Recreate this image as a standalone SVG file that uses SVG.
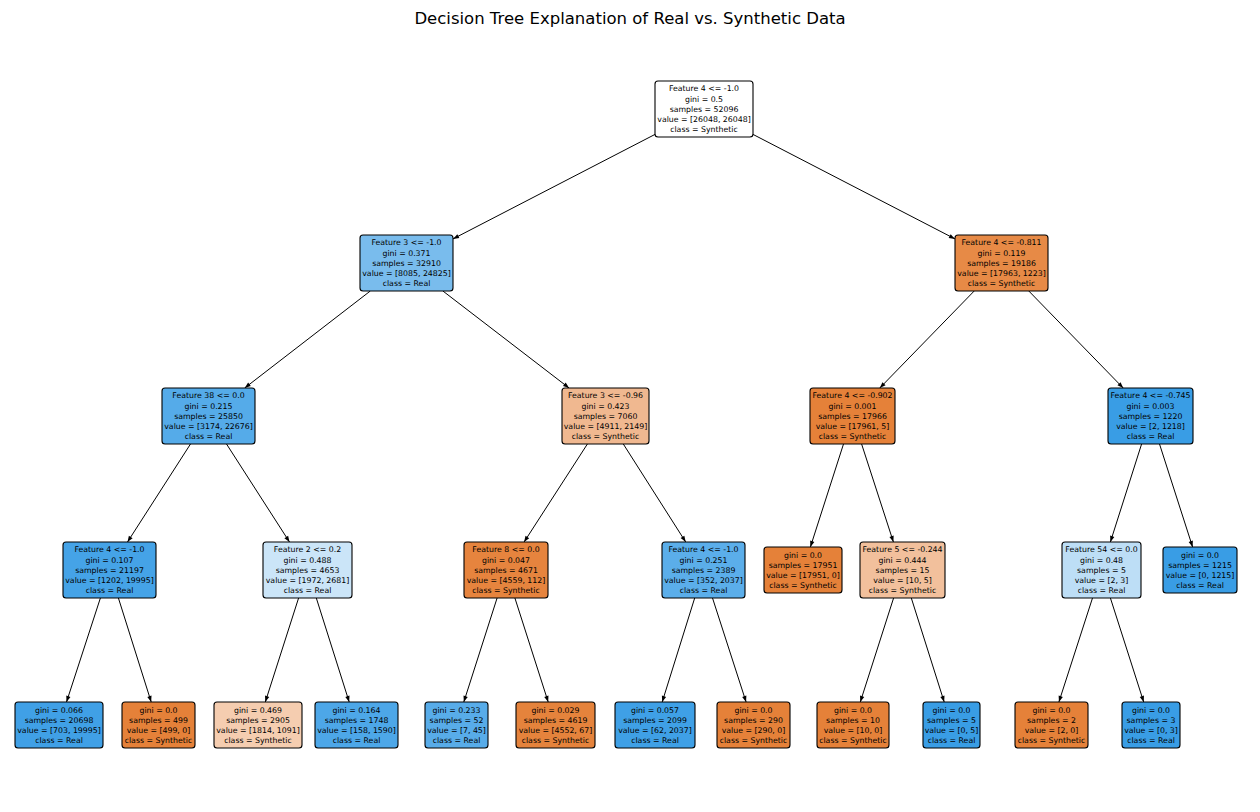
<svg xmlns="http://www.w3.org/2000/svg" width="1260" height="812" viewBox="0 0 1260 812">
<style>
.bg{fill:#ffffff}
.title{font-family:"DejaVu Sans",sans-serif;font-size:16.5px;fill:#000;text-anchor:middle}
.n rect{stroke:#000;stroke-width:1.1}
.n text{font-family:"DejaVu Sans",sans-serif;font-size:7.8px;fill:#000;text-anchor:middle}
.e line{stroke:#000;stroke-width:1;marker-end:url(#ah)}
</style>
<defs>
<marker id="ah" viewBox="-1 -3 8 6" refX="6" refY="0" markerWidth="8" markerHeight="6" markerUnits="userSpaceOnUse" orient="auto">
<path d="M0,-2.2 L6,0 L0,2.2 z" fill="#000"/>
</marker>
</defs>
<rect class="bg" x="0" y="0" width="1260" height="812"/>
<text class="title" x="630" y="24">Decision Tree Explanation of Real vs. Synthetic Data</text>

<g id="edges" class="e">
<line x1="655" y1="134.4" x2="453" y2="238.9"/>
<line x1="753" y1="134.4" x2="955" y2="238.9"/>
<line x1="370.3" y1="291" x2="244.7" y2="388"/>
<line x1="442.9" y1="291" x2="569.1" y2="388"/>
<line x1="974.2" y1="291" x2="879.8" y2="388"/>
<line x1="1028.8" y1="291" x2="1123.2" y2="388"/>
<line x1="190.5" y1="444" x2="127.5" y2="542"/>
<line x1="226.5" y1="444" x2="289.5" y2="542"/>
<line x1="587.4" y1="444" x2="524.1" y2="542"/>
<line x1="623.3" y1="444" x2="685.7" y2="542"/>
<line x1="843.5" y1="444" x2="810.4" y2="547"/>
<line x1="861.6" y1="444" x2="893.4" y2="542"/>
<line x1="1141.6" y1="444" x2="1110.4" y2="542"/>
<line x1="1159.5" y1="444" x2="1192.6" y2="547"/>
<line x1="100.4" y1="598" x2="66.5" y2="702"/>
<line x1="118.4" y1="598" x2="151.2" y2="702"/>
<line x1="298.6" y1="598" x2="265.3" y2="702"/>
<line x1="316.3" y1="598" x2="349.2" y2="702"/>
<line x1="497.1" y1="598" x2="463.8" y2="702"/>
<line x1="514.9" y1="598" x2="548.2" y2="702"/>
<line x1="694.7" y1="598" x2="662.2" y2="702"/>
<line x1="712.5" y1="598" x2="746.1" y2="702"/>
<line x1="893.6" y1="598" x2="860.3" y2="702"/>
<line x1="911.3" y1="598" x2="944.2" y2="702"/>
<line x1="1092.5" y1="598" x2="1058.9" y2="702"/>
<line x1="1110.4" y1="598" x2="1143.7" y2="702"/>
</g>

<g id="n0" class="n"><rect x="655" y="81" width="98" height="56" rx="3" fill="#ffffff"/>
<text x="704" y="91.4"><tspan x="704">Feature 4 &lt;= -1.0</tspan><tspan x="704" dy="10.2">gini = 0.5</tspan><tspan x="704" dy="10.2">samples = 52096</tspan><tspan x="704" dy="10.2">value = [26048, 26048]</tspan><tspan x="704" dy="10.2">class = Synthetic</tspan></text></g>

<g id="n1" class="n"><rect x="360" y="235" width="93" height="56" rx="3" fill="#79bced"/>
<text x="406.5" y="245.4"><tspan x="406.5">Feature 3 &lt;= -1.0</tspan><tspan x="406.5" dy="10.2">gini = 0.371</tspan><tspan x="406.5" dy="10.2">samples = 32910</tspan><tspan x="406.5" dy="10.2">value = [8085, 24825]</tspan><tspan x="406.5" dy="10.2">class = Real</tspan></text></g>

<g id="n2" class="n"><rect x="955" y="235" width="93" height="56" rx="3" fill="#e78a46"/>
<text x="1001.5" y="245.4"><tspan x="1001.5">Feature 4 &lt;= -0.811</tspan><tspan x="1001.5" dy="10.2">gini = 0.119</tspan><tspan x="1001.5" dy="10.2">samples = 19186</tspan><tspan x="1001.5" dy="10.2">value = [17963, 1223]</tspan><tspan x="1001.5" dy="10.2">class = Synthetic</tspan></text></g>

<g id="n3" class="n"><rect x="162" y="388" width="93" height="56" rx="3" fill="#55abe9"/>
<text x="208.5" y="398.4"><tspan x="208.5">Feature 38 &lt;= 0.0</tspan><tspan x="208.5" dy="10.2">gini = 0.215</tspan><tspan x="208.5" dy="10.2">samples = 25850</tspan><tspan x="208.5" dy="10.2">value = [3174, 22676]</tspan><tspan x="208.5" dy="10.2">class = Real</tspan></text></g>

<g id="n4" class="n"><rect x="562" y="388" width="87" height="56" rx="3" fill="#f0b890"/>
<text x="605.5" y="398.4"><tspan x="605.5">Feature 3 &lt;= -0.96</tspan><tspan x="605.5" dy="10.2">gini = 0.423</tspan><tspan x="605.5" dy="10.2">samples = 7060</tspan><tspan x="605.5" dy="10.2">value = [4911, 2149]</tspan><tspan x="605.5" dy="10.2">class = Synthetic</tspan></text></g>

<g id="n5" class="n"><rect x="810" y="388" width="85" height="56" rx="3" fill="#e58139"/>
<text x="852.5" y="398.4"><tspan x="852.5">Feature 4 &lt;= -0.902</tspan><tspan x="852.5" dy="10.2">gini = 0.001</tspan><tspan x="852.5" dy="10.2">samples = 17966</tspan><tspan x="852.5" dy="10.2">value = [17961, 5]</tspan><tspan x="852.5" dy="10.2">class = Synthetic</tspan></text></g>

<g id="n6" class="n"><rect x="1108" y="388" width="85" height="56" rx="3" fill="#399de5"/>
<text x="1150.5" y="398.4"><tspan x="1150.5">Feature 4 &lt;= -0.745</tspan><tspan x="1150.5" dy="10.2">gini = 0.003</tspan><tspan x="1150.5" dy="10.2">samples = 1220</tspan><tspan x="1150.5" dy="10.2">value = [2, 1218]</tspan><tspan x="1150.5" dy="10.2">class = Real</tspan></text></g>

<g id="n7" class="n"><rect x="63" y="542" width="93" height="56" rx="3" fill="#45a3e7"/>
<text x="109.5" y="552.4"><tspan x="109.5">Feature 4 &lt;= -1.0</tspan><tspan x="109.5" dy="10.2">gini = 0.107</tspan><tspan x="109.5" dy="10.2">samples = 21197</tspan><tspan x="109.5" dy="10.2">value = [1202, 19995]</tspan><tspan x="109.5" dy="10.2">class = Real</tspan></text></g>

<g id="n8" class="n"><rect x="263" y="542" width="89" height="56" rx="3" fill="#cbe5f8"/>
<text x="307.5" y="552.4"><tspan x="307.5">Feature 2 &lt;= 0.2</tspan><tspan x="307.5" dy="10.2">gini = 0.488</tspan><tspan x="307.5" dy="10.2">samples = 4653</tspan><tspan x="307.5" dy="10.2">value = [1972, 2681]</tspan><tspan x="307.5" dy="10.2">class = Real</tspan></text></g>

<g id="n9" class="n"><rect x="464" y="542" width="84" height="56" rx="3" fill="#e6843e"/>
<text x="506" y="552.4"><tspan x="506">Feature 8 &lt;= 0.0</tspan><tspan x="506" dy="10.2">gini = 0.047</tspan><tspan x="506" dy="10.2">samples = 4671</tspan><tspan x="506" dy="10.2">value = [4559, 112]</tspan><tspan x="506" dy="10.2">class = Synthetic</tspan></text></g>

<g id="n10" class="n"><rect x="662" y="542" width="83" height="56" rx="3" fill="#5baeea"/>
<text x="703.5" y="552.4"><tspan x="703.5">Feature 4 &lt;= -1.0</tspan><tspan x="703.5" dy="10.2">gini = 0.251</tspan><tspan x="703.5" dy="10.2">samples = 2389</tspan><tspan x="703.5" dy="10.2">value = [352, 2037]</tspan><tspan x="703.5" dy="10.2">class = Real</tspan></text></g>

<g id="n11" class="n"><rect x="764" y="547" width="78" height="46" rx="3" fill="#e58139"/>
<text x="803" y="557.5"><tspan x="803">gini = 0.0</tspan><tspan x="803" dy="10.2">samples = 17951</tspan><tspan x="803" dy="10.2">value = [17951, 0]</tspan><tspan x="803" dy="10.2">class = Synthetic</tspan></text></g>

<g id="n12" class="n"><rect x="860" y="542" width="85" height="56" rx="3" fill="#f2c09c"/>
<text x="902.5" y="552.4"><tspan x="902.5">Feature 5 &lt;= -0.244</tspan><tspan x="902.5" dy="10.2">gini = 0.444</tspan><tspan x="902.5" dy="10.2">samples = 15</tspan><tspan x="902.5" dy="10.2">value = [10, 5]</tspan><tspan x="902.5" dy="10.2">class = Synthetic</tspan></text></g>

<g id="n13" class="n"><rect x="1062" y="542" width="79" height="56" rx="3" fill="#bddef6"/>
<text x="1101.5" y="552.4"><tspan x="1101.5">Feature 54 &lt;= 0.0</tspan><tspan x="1101.5" dy="10.2">gini = 0.48</tspan><tspan x="1101.5" dy="10.2">samples = 5</tspan><tspan x="1101.5" dy="10.2">value = [2, 3]</tspan><tspan x="1101.5" dy="10.2">class = Real</tspan></text></g>

<g id="n14" class="n"><rect x="1163" y="547" width="74" height="46" rx="3" fill="#399de5"/>
<text x="1200" y="557.5"><tspan x="1200">gini = 0.0</tspan><tspan x="1200" dy="10.2">samples = 1215</tspan><tspan x="1200" dy="10.2">value = [0, 1215]</tspan><tspan x="1200" dy="10.2">class = Real</tspan></text></g>

<g id="n15" class="n"><rect x="15" y="702" width="88" height="46" rx="3" fill="#40a0e6"/>
<text x="59" y="712.5"><tspan x="59">gini = 0.066</tspan><tspan x="59" dy="10.2">samples = 20698</tspan><tspan x="59" dy="10.2">value = [703, 19995]</tspan><tspan x="59" dy="10.2">class = Real</tspan></text></g>

<g id="n16" class="n"><rect x="122" y="702" width="73" height="46" rx="3" fill="#e58139"/>
<text x="158.5" y="712.5"><tspan x="158.5">gini = 0.0</tspan><tspan x="158.5" dy="10.2">samples = 499</tspan><tspan x="158.5" dy="10.2">value = [499, 0]</tspan><tspan x="158.5" dy="10.2">class = Synthetic</tspan></text></g>

<g id="n17" class="n"><rect x="214" y="702" width="88" height="46" rx="3" fill="#f5cdb0"/>
<text x="258" y="712.5"><tspan x="258">gini = 0.469</tspan><tspan x="258" dy="10.2">samples = 2905</tspan><tspan x="258" dy="10.2">value = [1814, 1091]</tspan><tspan x="258" dy="10.2">class = Synthetic</tspan></text></g>

<g id="n18" class="n"><rect x="315" y="702" width="83" height="46" rx="3" fill="#4da7e8"/>
<text x="356.5" y="712.5"><tspan x="356.5">gini = 0.164</tspan><tspan x="356.5" dy="10.2">samples = 1748</tspan><tspan x="356.5" dy="10.2">value = [158, 1590]</tspan><tspan x="356.5" dy="10.2">class = Real</tspan></text></g>

<g id="n19" class="n"><rect x="425" y="702" width="63" height="46" rx="3" fill="#58ace9"/>
<text x="456.5" y="712.5"><tspan x="456.5">gini = 0.233</tspan><tspan x="456.5" dy="10.2">samples = 52</tspan><tspan x="456.5" dy="10.2">value = [7, 45]</tspan><tspan x="456.5" dy="10.2">class = Real</tspan></text></g>

<g id="n20" class="n"><rect x="516" y="702" width="79" height="46" rx="3" fill="#e5833c"/>
<text x="555.5" y="712.5"><tspan x="555.5">gini = 0.029</tspan><tspan x="555.5" dy="10.2">samples = 4619</tspan><tspan x="555.5" dy="10.2">value = [4552, 67]</tspan><tspan x="555.5" dy="10.2">class = Synthetic</tspan></text></g>

<g id="n21" class="n"><rect x="615" y="702" width="80" height="46" rx="3" fill="#3fa0e6"/>
<text x="655" y="712.5"><tspan x="655">gini = 0.057</tspan><tspan x="655" dy="10.2">samples = 2099</tspan><tspan x="655" dy="10.2">value = [62, 2037]</tspan><tspan x="655" dy="10.2">class = Real</tspan></text></g>

<g id="n22" class="n"><rect x="717" y="702" width="73" height="46" rx="3" fill="#e58139"/>
<text x="753.5" y="712.5"><tspan x="753.5">gini = 0.0</tspan><tspan x="753.5" dy="10.2">samples = 290</tspan><tspan x="753.5" dy="10.2">value = [290, 0]</tspan><tspan x="753.5" dy="10.2">class = Synthetic</tspan></text></g>

<g id="n23" class="n"><rect x="817" y="702" width="72" height="46" rx="3" fill="#e58139"/>
<text x="853" y="712.5"><tspan x="853">gini = 0.0</tspan><tspan x="853" dy="10.2">samples = 10</tspan><tspan x="853" dy="10.2">value = [10, 0]</tspan><tspan x="853" dy="10.2">class = Synthetic</tspan></text></g>

<g id="n24" class="n"><rect x="923" y="702" width="57" height="46" rx="3" fill="#399de5"/>
<text x="951.5" y="712.5"><tspan x="951.5">gini = 0.0</tspan><tspan x="951.5" dy="10.2">samples = 5</tspan><tspan x="951.5" dy="10.2">value = [0, 5]</tspan><tspan x="951.5" dy="10.2">class = Real</tspan></text></g>

<g id="n25" class="n"><rect x="1015" y="702" width="73" height="46" rx="3" fill="#e58139"/>
<text x="1051.5" y="712.5"><tspan x="1051.5">gini = 0.0</tspan><tspan x="1051.5" dy="10.2">samples = 2</tspan><tspan x="1051.5" dy="10.2">value = [2, 0]</tspan><tspan x="1051.5" dy="10.2">class = Synthetic</tspan></text></g>

<g id="n26" class="n"><rect x="1122" y="702" width="58" height="46" rx="3" fill="#399de5"/>
<text x="1151" y="712.5"><tspan x="1151">gini = 0.0</tspan><tspan x="1151" dy="10.2">samples = 3</tspan><tspan x="1151" dy="10.2">value = [0, 3]</tspan><tspan x="1151" dy="10.2">class = Real</tspan></text></g>
</svg>
